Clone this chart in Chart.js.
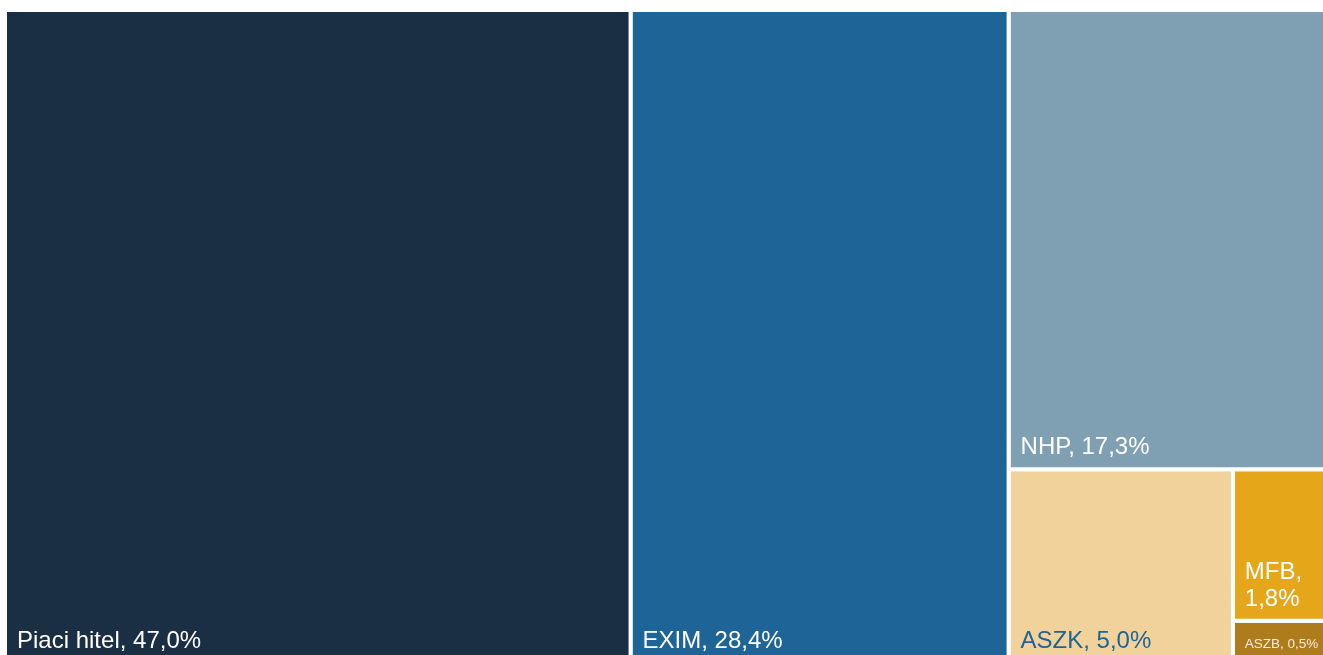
<!DOCTYPE html>
<html>
<head>
<meta charset="utf-8">
<script src="https://cdn.jsdelivr.net/npm/chart.js@4/dist/chart.umd.min.js"></script>
<style>
  html, body { margin: 0; padding: 0; overflow: hidden; background: #ffffff; }
  #wrap { position: absolute; left: 0; top: 0; width: 1336px; height: 663px; }
</style>
</head>
<body>
<div id="wrap"><canvas id="c"></canvas></div>
<script>
// ---- data ----
const categories = ["Piaci hitel", "EXIM", "NHP", "ASZK", "MFB", "ASZB"];
const shares = [47.0, 28.4, 17.3, 5.0, 1.8, 0.5];
const valueLabels = ["47,0%", "28,4%", "17,3%", "5,0%", "1,8%", "0,5%"];
const colors = ["#1a2e44", "#1e6496", "#7fa0b3", "#f1d29b", "#e6a61a", "#ae7b1d"];
const labelColors = ["#ffffff", "#ffffff", "#ffffff", "#1e6496", "#ffffff", "#f4ece0"];

// ---- layout space (data units) ----
const X_MAX = 100;
const Y_MAX = 49.0; // matches plot aspect ratio

function worst(row, side) {
  const s = row.reduce((a, b) => a + b, 0);
  const mx = Math.max(...row), mn = Math.min(...row);
  return Math.max(side * side * mx / (s * s), (s * s) / (side * side * mn));
}
function squarify(values, x, y, w, h) {
  const total = values.reduce((a, b) => a + b, 0);
  const areas = values.map(v => v / total * w * h);
  const out = [];
  let i = 0;
  while (i < areas.length) {
    const side = Math.min(w, h);
    let row = [areas[i]];
    let j = i + 1;
    while (j < areas.length) {
      const nr = row.concat(areas[j]);
      if (worst(nr, side) <= worst(row, side)) { row = nr; j++; } else break;
    }
    const s = row.reduce((a, b) => a + b, 0);
    if (w >= h) {
      const t = s / h; let yy = y;
      row.forEach(a => { const hh = a / t; out.push({ x0: x, y0: yy, x1: x + t, y1: yy + hh }); yy += hh; });
      x += t; w -= t;
    } else {
      const t = s / w; let xx = x;
      row.forEach(a => { const ww = a / t; out.push({ x0: xx, y0: y, x1: xx + ww, y1: y + t }); xx += ww; });
      y += t; h -= t;
    }
    i = j;
  }
  return out;
}
const rects = squarify(shares, 0, 0, X_MAX, Y_MAX);

const datasets = rects.map((r, i) => ({
  label: categories[i],
  data: [
    { x: r.x0, y: r.y0 }, { x: r.x1, y: r.y0 }, { x: r.x1, y: r.y1 },
    { x: r.x0, y: r.y1 }, { x: r.x0, y: r.y0 }
  ],
  showLine: true,
  fill: 'shape',
  backgroundColor: colors[i],
  borderColor: '#ffffff',
  borderWidth: 4,
  pointRadius: 0,
  pointHoverRadius: 0,
  tension: 0,
  clip: 0
}));

const labelPlugin = {
  id: 'treeLabels',
  afterDatasetsDraw(chart) {
    const ctx = chart.ctx;
    const xs = chart.scales.x, ys = chart.scales.y;
    rects.forEach((r, i) => {
      const left = xs.getPixelForValue(r.x0) + 2;
      const right = xs.getPixelForValue(r.x1) - 2;
      const bottom = ys.getPixelForValue(r.y1) - 2;
      const small = (right - left) < 60 || (bottom - (ys.getPixelForValue(r.y0) + 2)) < 60;
      const size = small ? 13.5 : 24;
      const lh = small ? 16 : 27;
      ctx.save();
      ctx.font = size + 'px "Liberation Sans", Arial, sans-serif';
      ctx.fillStyle = labelColors[i];
      ctx.textAlign = 'left';
      ctx.textBaseline = 'alphabetic';
      const text = categories[i] + ', ' + valueLabels[i];
      const maxW = right - left - 20;
      const words = text.split(' ');
      const lines = [];
      let cur = '';
      words.forEach(wd => {
        const t = cur ? cur + ' ' + wd : wd;
        if (cur && ctx.measureText(t).width > maxW) { lines.push(cur); cur = wd; } else cur = t;
      });
      if (cur) lines.push(cur);
      const baseY = bottom - 13;
      lines.forEach((ln, k) => {
        ctx.fillText(ln, left + 10, baseY - (lines.length - 1 - k) * lh);
      });
      ctx.restore();
    });
  }
};

new Chart(document.getElementById('c'), {
  type: 'scatter',
  data: { datasets },
  options: {
    responsive: true,
    maintainAspectRatio: false,
    animation: false,
    layout: { padding: { left: 5, top: 10, right: 0, bottom: 0 } },
    plugins: { legend: { display: false }, tooltip: { enabled: false } },
    scales: {
      x: { type: 'linear', min: 0, max: X_MAX, display: false },
      y: { type: 'linear', min: 0, max: Y_MAX, reverse: true, display: false }
    }
  },
  plugins: [labelPlugin]
});
</script>
</body>
</html>
